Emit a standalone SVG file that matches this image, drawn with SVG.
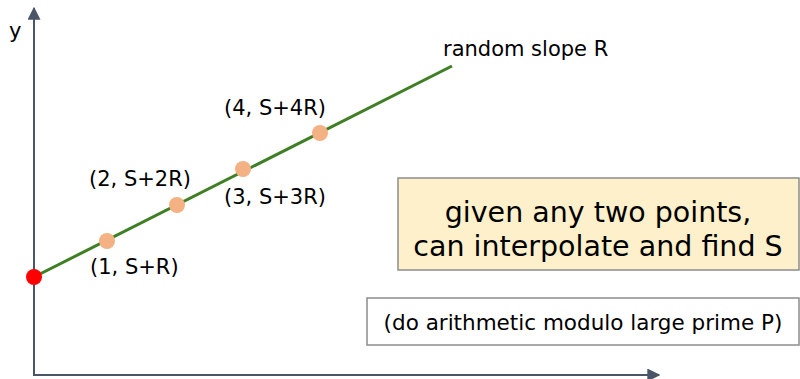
<svg xmlns="http://www.w3.org/2000/svg" width="800" height="379" viewBox="0 0 800 379">
<defs>
<style>
.t{font-family:"DejaVu Sans","Verdana",sans-serif;fill:#000}
.lbl{font-size:21px}
.axis{stroke:#4a5568;stroke-width:2;fill:none}
.pt{fill:#f4b183}
</style>
<marker id="ah" viewBox="0 0 10 10" refX="9" refY="5" markerWidth="13" markerHeight="13" markerUnits="userSpaceOnUse" orient="auto">
<path d="M0,0 L10,5 L0,10 Z" fill="#4a5568"/>
</marker>
</defs>
<rect width="800" height="379" fill="#fff"/>
<g id="connectors">
<line class="axis" x1="34" y1="376" x2="34" y2="8" marker-end="url(#ah)"/>
<line class="axis" x1="33" y1="375" x2="659" y2="375" marker-end="url(#ah)"/>
<line x1="34" y1="277" x2="452" y2="66" stroke="#3f7f24" stroke-width="3"/>
</g>
<g id="y-label"><text class="t" x="9" y="38" font-size="21">y</text></g>
<g id="origin"><circle cx="34" cy="277" r="8" fill="#ff0000"/></g>
<g id="p1"><circle class="pt" cx="107" cy="241" r="8"/><text class="t lbl" x="90" y="274">(1, S+R)</text></g>
<g id="p2"><circle class="pt" cx="177" cy="205" r="8"/><text class="t lbl" x="89" y="186">(2, S+2R)</text></g>
<g id="p3"><circle class="pt" cx="243" cy="169" r="8"/><text class="t lbl" x="224" y="204">(3, S+3R)</text></g>
<g id="p4"><circle class="pt" cx="320" cy="133" r="8"/><text class="t lbl" x="224" y="115">(4, S+4R)</text></g>
<g id="slope"><text class="t lbl" x="443" y="56">random slope R</text></g>
<g id="interp">
<rect x="398" y="178" width="401" height="92" fill="#fdf0cb" stroke="#8c8c8c" stroke-width="1.5"/>
<text class="t" x="598" y="222" font-size="28.5" text-anchor="middle">given any two points,</text>
<text class="t" x="598" y="256" font-size="28.5" text-anchor="middle">can interpolate and find S</text>
</g>
<g id="modulo">
<rect x="367" y="298" width="432" height="47" fill="#fff" stroke="#8c8c8c" stroke-width="1.5"/>
<text class="t" x="583" y="330" font-size="21.5" text-anchor="middle">(do arithmetic modulo large prime P)</text>
</g>
</svg>
